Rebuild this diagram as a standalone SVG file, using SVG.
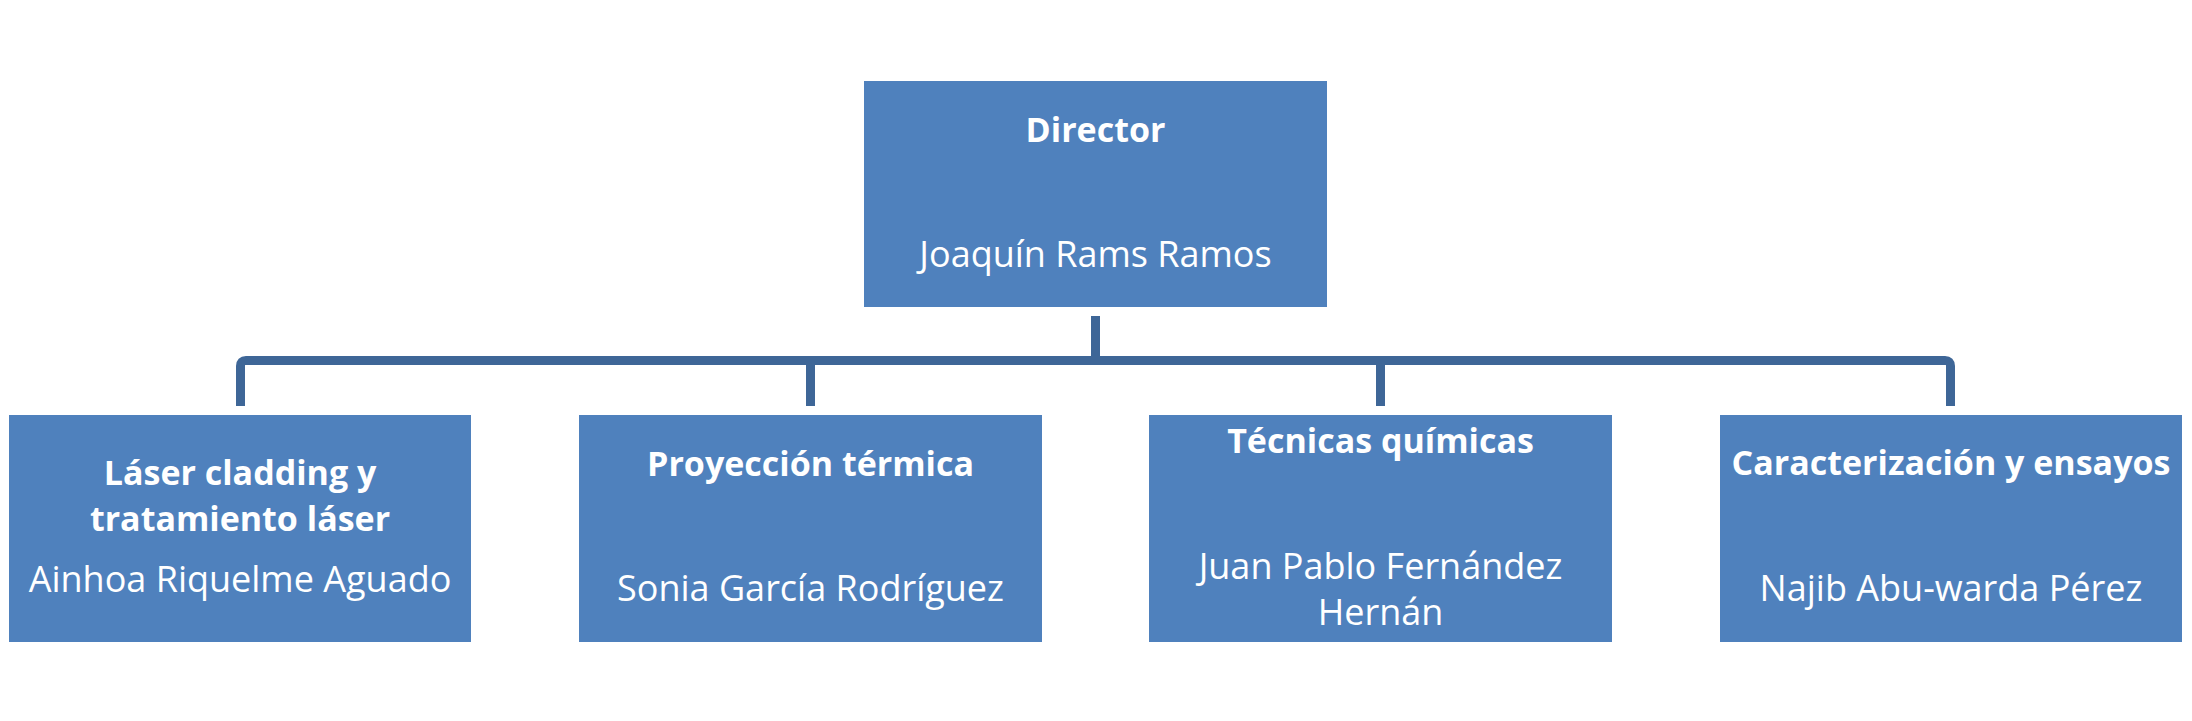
<svg xmlns="http://www.w3.org/2000/svg" width="2192" height="721" viewBox="0 0 2192 721">
<style>
.box{fill:#4F81BD;}
.t{font-family:"Open Sans","Liberation Sans",sans-serif;font-size:36px;fill:#FFFFFF;text-anchor:middle;}
.b{font-weight:bold;font-size:34px;}
.c{fill:none;stroke:#3E6697;stroke-width:9;stroke-linejoin:round;}
</style>
<rect width="2192" height="721" fill="#FFFFFF"/>
<g id="connectors">
<path class="c" d="M240.5,406 V366 Q240.5,360.5 246,360.5 H1945 Q1950.5,360.5 1950.5,366 V406"/>
<path class="c" d="M1095.5,316 V360.5"/>
<path class="c" d="M810.5,360.5 V406"/>
<path class="c" d="M1380.5,360.5 V406"/>
</g>
<g id="director">
<rect class="box" x="864" y="81" width="463" height="226"/>
<text class="t b" x="1095.5" y="142">Director</text>
<text class="t" x="1095.5" y="267">Joaquín Rams Ramos</text>
</g>
<g id="laser">
<rect class="box" x="9" y="415" width="462" height="227"/>
<text class="t b" x="240" y="485">Láser cladding y</text>
<text class="t b" x="240" y="531">tratamiento láser</text>
<text class="t" x="240" y="592">Ainhoa Riquelme Aguado</text>
</g>
<g id="proyeccion">
<rect class="box" x="579" y="415" width="463" height="227"/>
<text class="t b" x="810.5" y="476">Proyección térmica</text>
<text class="t" x="810.5" y="601">Sonia García Rodríguez</text>
</g>
<g id="quimicas">
<rect class="box" x="1149" y="415" width="463" height="227"/>
<text class="t b" x="1380.5" y="453">Técnicas químicas</text>
<text class="t" x="1380.5" y="579">Juan Pablo Fernández</text>
<text class="t" x="1380.5" y="625">Hernán</text>
</g>
<g id="caracterizacion">
<rect class="box" x="1720" y="415" width="462" height="227"/>
<text class="t b" x="1951" y="475">Caracterización y ensayos</text>
<text class="t" x="1951" y="601">Najib Abu-warda Pérez</text>
</g>
</svg>
